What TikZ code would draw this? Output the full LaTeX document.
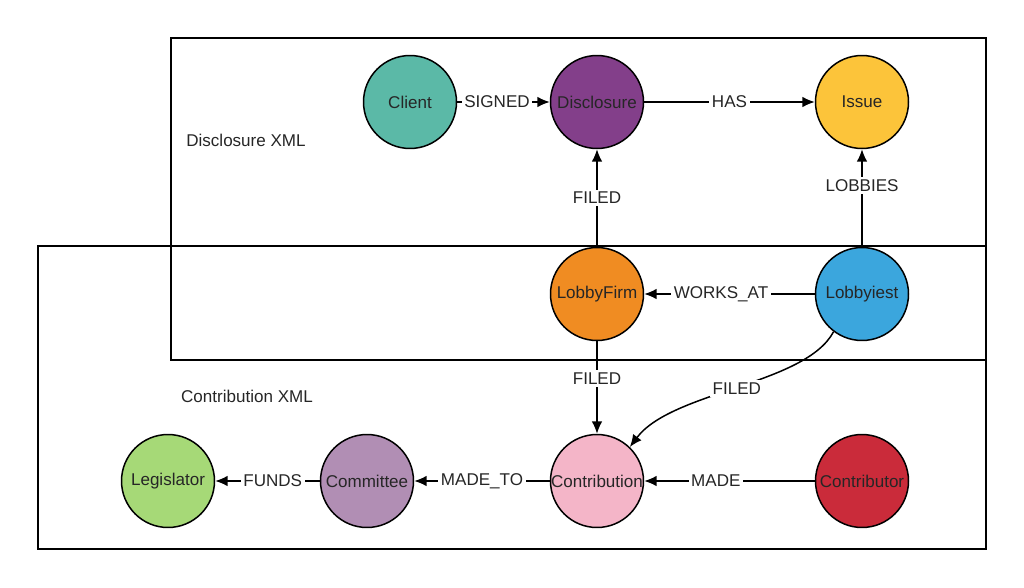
\documentclass[tikz,border=0pt]{standalone}
\usepackage{fontspec}
\setmainfont{Liberation Sans}
\usetikzlibrary{arrows.meta}
\definecolor{clientcol}{HTML}{5BB9A7}
\definecolor{disclosurecol}{HTML}{833F8A}
\definecolor{issuecol}{HTML}{FCC43A}
\definecolor{firmcol}{HTML}{F08C22}
\definecolor{lobbyistcol}{HTML}{3BA6DD}
\definecolor{legislatorcol}{HTML}{A6D977}
\definecolor{committeecol}{HTML}{B18EB4}
\definecolor{contributioncol}{HTML}{F4B5C8}
\definecolor{contributorcol}{HTML}{CA2B3A}
\tikzset{>={Latex[length=7pt,width=6pt]}}
\tikzset{
  entity/.style={circle, draw=black, line width=0.85pt, minimum size=1.86cm,
    inner sep=0pt, font=\fontsize{9.7}{11}\selectfont, text=black!85},
  rel/.style={->, line width=0.85pt},
  rellabel/.style={fill=white, inner sep=1.5pt, font=\fontsize{9.7}{11}\selectfont, text=black!85},
  xmlbox/.style={draw=black, line width=0.85pt}
}

\begin{document}
\begin{tikzpicture}[x=0.02cm, y=-0.02cm]
\useasboundingbox (0,0) rectangle (1024,588);
% the two source files
\draw[xmlbox] (171,38) rectangle (986,360);
\draw[xmlbox] (38,246) rectangle (986,549);
\node[font=\fontsize{9.7}{11}\selectfont, text=black!85] (disclosurexml) at (246,140) {Disclosure XML};
\node[font=\fontsize{9.7}{11}\selectfont, text=black!85] (contributionxml) at (247,396) {Contribution XML};

% entities
\node[entity, fill=clientcol] (client) at (410,102) {Client};
\node[entity, fill=disclosurecol] (disclosure) at (597,102) {Disclosure};
\node[entity, fill=issuecol] (issue) at (862,102) {Issue};
\node[entity, fill=firmcol] (lobbyfirm) at (597,294) {LobbyFirm};
\node[entity, fill=lobbyistcol] (lobbyist) at (862,294) {Lobbyiest};
\node[entity, fill=legislatorcol] (legislator) at (168,481) {Legislator};
\node[entity, fill=committeecol] (committee) at (367,481) {Committee};
\node[entity, fill=contributioncol] (contribution) at (597,481) {Contribution};
\node[entity, fill=contributorcol] (contributor) at (862,481) {Contributor};

% relationships
\draw[rel] (client) -- (disclosure) node[rellabel, pos=0.43] {SIGNED};
\draw[rel] (disclosure) -- (issue) node[rellabel, pos=0.5] {HAS};
\draw[rel] (lobbyfirm) -- (disclosure) node[rellabel, pos=0.5] {FILED};
\draw[rel] (lobbyist) -- (issue) node[rellabel, pos=0.63] {LOBBIES};
\draw[rel] (lobbyist) -- (lobbyfirm) node[rellabel, pos=0.55] {WORKS\_AT};
\draw[rel] (lobbyfirm) -- (contribution) node[rellabel, pos=0.4] {FILED};
\draw[rel] (lobbyist.233) .. controls (805,385) and (672,391) .. (contribution.46)
  node[rellabel, pos=0.5] {FILED};
\draw[rel] (contributor) -- (contribution) node[rellabel, pos=0.58] {MADE};
\draw[rel] (contribution) -- (committee) node[rellabel, pos=0.5] {MADE\_TO};
\draw[rel] (committee) -- (legislator) node[rellabel, pos=0.45] {FUNDS};
\end{tikzpicture}
\end{document}
